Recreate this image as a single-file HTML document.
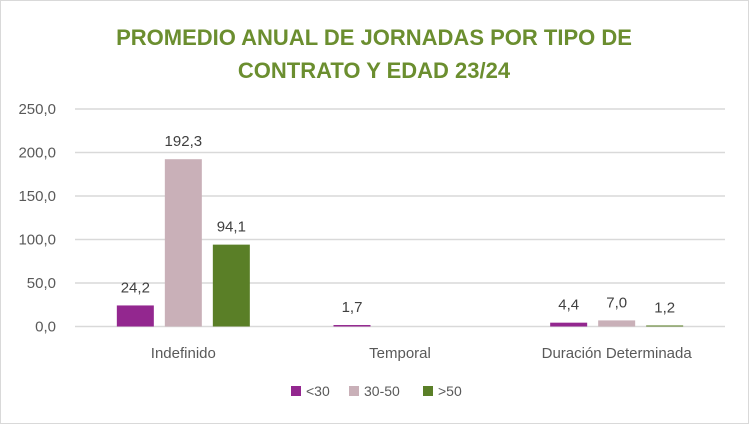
<!DOCTYPE html>
<html><head><meta charset="utf-8"><style>
body{margin:0;background:#fff;}
svg{display:block;font-family:"Liberation Sans",Calibri,sans-serif;}
</style></head><body>
<svg id="c" width="749" height="424" viewBox="0 0 749 424">
<rect x="0.5" y="0.5" width="748" height="423" fill="#fff" stroke="#d9d9d9"/>
<text x="374" y="45" text-anchor="middle" font-size="22" font-weight="bold" fill="#6b8e2f">PROMEDIO ANUAL DE JORNADAS POR TIPO DE</text>
<text x="374" y="78" text-anchor="middle" font-size="22" font-weight="bold" fill="#6b8e2f">CONTRATO Y  EDAD 23/24</text>
<g id="grid"></g><g id="bars"></g><g id="labels"></g>
<g>
<rect x="291" y="386" width="10" height="10" fill="#93278f"/>
<text x="306" y="396" font-size="14" fill="#595959">&lt;30</text>
<rect x="349" y="386" width="10" height="10" fill="#c9b0b8"/>
<text x="364" y="396" font-size="14" fill="#595959">30-50</text>
<rect x="423" y="386" width="10" height="10" fill="#5a7f27"/>
<text x="438" y="396" font-size="14" fill="#595959">&gt;50</text>
</g>
</svg>
<script>
const categories=["Indefinido","Temporal","Duración Determinada"];
const seriesNames=["<30","30-50",">50"];
const lt30=[24.2,1.7,4.4];
const mid=[192.3,0,7.0];
const gt50=[94.1,0,1.2];
const ticks=[0,50,100,150,200,250];
const tickLabels=["0,0","50,0","100,0","150,0","200,0","250,0"];
const NS="http://www.w3.org/2000/svg";
const x0=75,x1=725,y0=326.5,yTop=109;
const yS=v=>y0-(v/250)*(y0-yTop);
const bandW=(x1-x0)/categories.length;
const xC=i=>x0+bandW*(i+0.5);
function mk(t,a,p){const e=document.createElementNS(NS,t);for(const k in a)e.setAttribute(k,a[k]);p.appendChild(e);return e;}
const g=document.getElementById('grid'),b=document.getElementById('bars'),l=document.getElementById('labels');
ticks.forEach((t,i)=>{
 const ln=mk('line',{x1:x0,x2:x1,y1:yS(t),y2:yS(t),stroke:'#d9d9d9','stroke-width':1.5},g);
 
 
 const tx=mk('text',{x:56,y:yS(t)+5,'text-anchor':'end','font-size':15,fill:'#595959'},g);
 tx.textContent=tickLabels[i];
 
 
});
categories.forEach((c,i)=>{
 const tx=mk('text',{x:xC(i),y:358,'text-anchor':'middle','font-size':15,fill:'#595959'},g);
 tx.textContent=c;
 
 
});
const series=[lt30,mid,gt50],colors=["#93278f","#c9b0b8","#5a7f27"];
const bw=37,step=48;
series.forEach((s,si)=>{
 s.forEach((v,i)=>{
  if(!v)return;
  const cx=xC(i)+(si-1)*step;
  const r=mk('rect',{x:cx-bw/2,y:yS(v),width:bw,height:y0-yS(v),fill:colors[si]},b);
  
  
  const tx=mk('text',{x:cx,y:yS(v)-13,'text-anchor':'middle','font-size':15,fill:'#404040'},l);
  tx.textContent=v.toFixed(1).replace('.',',');
  
  
 });
});
</script>
</body></html>
